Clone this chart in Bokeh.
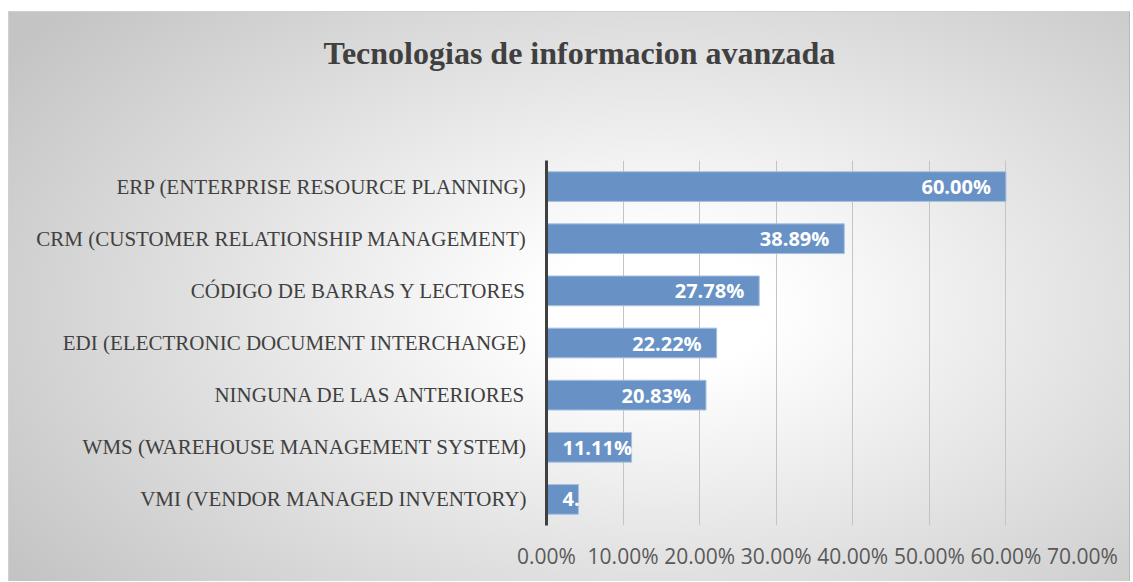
from bokeh.plotting import figure
from bokeh.models import ColumnDataSource, FactorRange, Range1d, NumeralTickFormatter, Title, FixedTicker
from bokeh.core.properties import value
from bokeh.embed import file_html
from bokeh.resources import INLINE

title_text = "Tecnologias de informacion avanzada"
categories = [
    "ERP (ENTERPRISE RESOURCE PLANNING)",
    "CRM (CUSTOMER RELATIONSHIP MANAGEMENT)",
    "CÓDIGO DE BARRAS Y LECTORES",
    "EDI (ELECTRONIC DOCUMENT INTERCHANGE)",
    "NINGUNA DE LAS ANTERIORES",
    "WMS (WAREHOUSE MANAGEMENT SYSTEM)",
    "VMI (VENDOR MANAGED INVENTORY)",
]
values = [0.60, 0.3889, 0.2778, 0.2222, 0.2083, 0.1111, 0.0417]
labels = ["60.00%", "38.89%", "27.78%", "22.22%", "20.83%", "11.11%", "4."]
x_ticks = [0.0, 0.1, 0.2, 0.3, 0.4, 0.5, 0.6, 0.7]

# labels that do not fit inside the bar end are anchored at the bar start
fits = [v >= 0.15 for v in values]
lab_x = [v if f else 0.0 for v, f in zip(values, fits)]
lab_off = [-15 if f else 16 for f in fits]
lab_align = ["right" if f else "left" for f in fits]

src = ColumnDataSource(dict(cat=categories, val=values, lab=labels,
                            lx=lab_x, loff=lab_off, lal=lab_align))

p = figure(
    width=1122, height=570,
    y_range=FactorRange(*reversed(categories)),
    x_range=Range1d(0, 0.7),
    output_backend="svg", toolbar_location=None,
    min_border_left=537, min_border_right=49, min_border_top=0, min_border_bottom=57,
)
p.styles = {
    "margin-top": "11px",
    "margin-left": "8px",
    "background": "radial-gradient(ellipse 70% 80% at 58% 52%, #ffffff 0%, #ffffff 14%, #c4c4c4 100%)",
    "border-top": "1px solid #d0d0d0",
    "border-left": "1px solid #d0d0d0",
    "border-right": "1px solid #b8b8b8",
}
p.background_fill_color = None
p.border_fill_color = None
p.outline_line_color = None

# spacer between title and plot area (closest to the frame)
p.add_layout(Title(text=" ", text_font_size="10px", standoff=56), "above")
p.add_layout(Title(text=title_text, align="left", offset=-223,
                   text_font="Liberation Serif", text_font_size="32px", text_font_style="bold",
                   text_color="#404040", standoff=41), "above")

p.hbar(y="cat", right="val", left=0, height=0.57, source=src,
       fill_color="#6892c5", line_color="#a8c0e0", line_width=1)

p.text(x="lx", y="cat", text="lab", source=src, x_offset="loff",
       text_align="lal", text_baseline="middle", text_color="white",
       text_font=value("Open Sans"), text_font_size="20px", text_font_style="bold")

p.xgrid.grid_line_color = "#c4c4c4"
p.xgrid.grid_line_width = 1
p.ygrid.grid_line_color = None

p.xaxis.ticker = FixedTicker(ticks=x_ticks)
p.xaxis.formatter = NumeralTickFormatter(format="0.00%")
p.xaxis.axis_line_color = None
p.xaxis.major_tick_line_color = None
p.xaxis.minor_tick_line_color = None
p.xaxis.major_label_text_font = "Open Sans"
p.xaxis.major_label_text_font_size = "21px"
p.xaxis.major_label_text_color = "#595959"
p.xaxis.major_label_standoff = 10

p.yaxis.axis_line_color = "#404040"
p.yaxis.axis_line_width = 3
p.yaxis.major_tick_line_color = None
p.yaxis.minor_tick_line_color = None
p.yaxis.major_label_text_font = "Liberation Serif"
p.yaxis.major_label_text_font_size = "21px"
p.yaxis.major_label_text_color = "#404040"
p.yaxis.major_label_standoff = 14

open("out.html", "w").write(file_html(p, INLINE))
